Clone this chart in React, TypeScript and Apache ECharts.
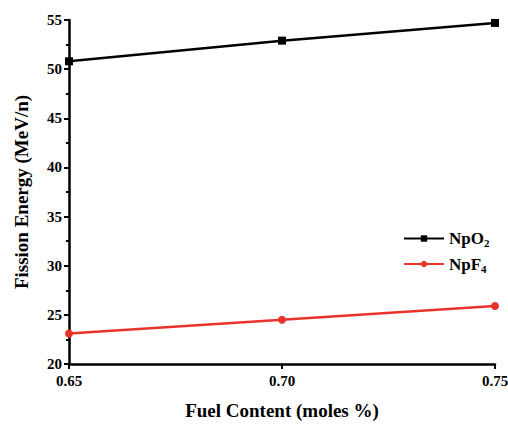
import React, { useEffect, useRef } from "react";
import * as echarts from "echarts";

const categories = ["0.65", "0.70", "0.75"];
const npo2 = [50.8, 52.9, 54.7];
const npf4 = [23.1, 24.5, 25.9];
const yTicks = { min: 20, max: 55, interval: 5 };

const FONT = "'Liberation Serif', 'Times New Roman', serif";

export default function App() {
  const ref = useRef<HTMLDivElement>(null);
  useEffect(() => {
    if (!ref.current) return;
    const chart = echarts.init(ref.current, null, { renderer: "svg" });
    const axisLine = { lineStyle: { color: "#000", width: 2.5 } };
    chart.setOption({
      animation: false,
      backgroundColor: "#fff",
      grid: { left: 69, right: 13, top: 20, bottom: 60, containLabel: false, outerBoundsMode: "none" },
      legend: {
        orient: "vertical",
        left: 398,
        top: 225,
        itemWidth: 40,
        itemHeight: 8,
        itemGap: 7,
        textStyle: {
          fontFamily: FONT,
          fontWeight: "bold",
          fontSize: 17,
          color: "#000",
          rich: {
            a: { fontFamily: FONT, fontWeight: "bold", fontSize: 17, color: "#000" },
            s: { fontFamily: FONT, fontWeight: "bold", fontSize: 11, color: "#000", verticalAlign: "bottom", padding: [9, 0, 0, 0] },
          },
        },
        formatter: (name: string) => {
          const m = name.match(/^(.*?)(\d+)$/);
          return m ? `{a|${m[1]}}{s|${m[2]}}` : name;
        },
        data: ["NpO2", "NpF4"],
      },
      xAxis: {
        type: "category",
        data: categories,
        boundaryGap: false,
        name: "Fuel Content (moles %)",
        nameLocation: "middle",
        nameGap: 37,
        nameTextStyle: { fontFamily: FONT, fontWeight: "bold", fontSize: 19, color: "#000" },
        axisLine,
        axisTick: { show: true, length: 5, lineStyle: { color: "#000", width: 2 } },
        axisLabel: { fontFamily: FONT, fontWeight: "bold", fontSize: 15, color: "#000", margin: 9 },
        splitLine: { show: false },
      },
      yAxis: {
        type: "value",
        min: yTicks.min,
        max: yTicks.max,
        interval: yTicks.interval,
        name: "Fission Energy (MeV/n)",
        nameLocation: "middle",
        nameGap: 38,
        nameTextStyle: { fontFamily: FONT, fontWeight: "bold", fontSize: 19, color: "#000" },
        axisLine: { show: true, ...axisLine },
        axisTick: { show: true, length: 5, lineStyle: { color: "#000", width: 2 } },
        minorTick: { show: true, splitNumber: 2, length: 3, lineStyle: { color: "#000", width: 2 } },
        axisLabel: { fontFamily: FONT, fontWeight: "bold", fontSize: 15, color: "#000", margin: 7 },
        splitLine: { show: false },
      },
      series: [
        {
          name: "NpO2",
          type: "line",
          data: npo2,
          symbol: "rect",
          symbolSize: 8,
          showAllSymbol: true,
          lineStyle: { color: "#000", width: 2.5 },
          itemStyle: { color: "#000" },
        },
        {
          name: "NpF4",
          type: "line",
          data: npf4,
          symbol: "circle",
          symbolSize: 8,
          showAllSymbol: true,
          lineStyle: { color: "#e8332b", width: 2.5 },
          itemStyle: { color: "#e8332b" },
        },
      ],
    });
    return () => chart.dispose();
  }, []);
  return <div ref={ref} style={{ width: 508, height: 424, position: "absolute", left: 0, top: 0 }} />;
}
